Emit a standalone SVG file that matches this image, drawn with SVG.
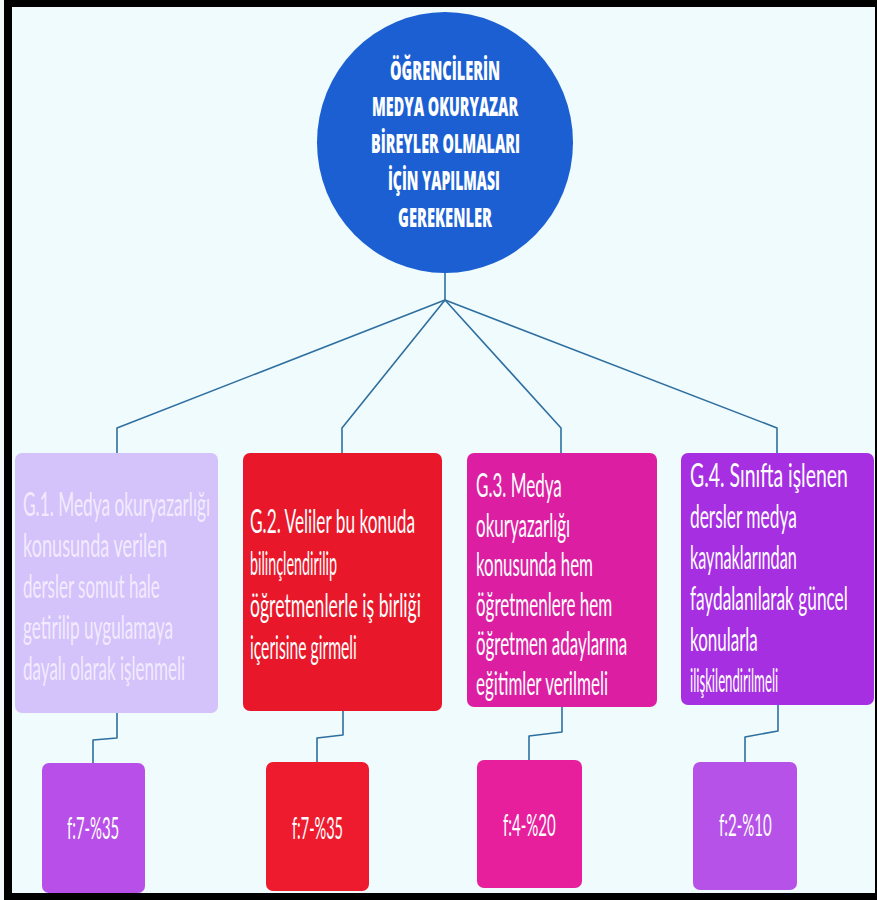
<svg xmlns="http://www.w3.org/2000/svg" width="877" height="900" viewBox="0 0 877 900">
  <style>
    .conn { fill: none; stroke: #2f6fa0; stroke-width: 1.6; stroke-linejoin: round; }
    .gt { font-family: Lato, "Open Sans", "Liberation Sans", sans-serif; font-size: 32px; fill: #ffffff; }
    .g1t { fill: #f2ebff; }
    .ft { font-family: Lato, "Open Sans", "Liberation Sans", sans-serif; font-size: 30px; fill: #ffffff; }
    .ct { font-family: "Open Sans", "Liberation Sans", sans-serif; font-size: 26px; font-weight: 800; fill: #ffffff; }
  </style>
  <!-- frame -->
  <rect x="0" y="0" width="877" height="900" fill="#f4f8f8"/>
  <rect x="4" y="0" width="873" height="900" fill="#000000"/>
  <rect x="12" y="7" width="863" height="886" fill="#effbfc"/>

  <g id="connectors">
    <line class="conn" x1="445" y1="272" x2="445" y2="300"/>
    <polyline class="conn" points="445,300 117,428 117,453"/>
    <polyline class="conn" points="445,300 342,428 342,453"/>
    <polyline class="conn" points="445,300 561,428 561,453"/>
    <polyline class="conn" points="445,300 777,428 777,453"/>
    <polyline class="conn" points="117,713 117,738 93,740 93,763"/>
    <polyline class="conn" points="343,711 343,735 317,738 317,762"/>
    <polyline class="conn" points="562,707 562,732 529,736 529,760"/>
    <polyline class="conn" points="778,705 778,731 745,737 745,762"/>
  </g>

  <g id="root">
    <ellipse cx="445" cy="142.5" rx="128" ry="130.5" fill="#1c5fd3"/>
    <text class="ct" transform="translate(390,80) scale(0.58,1)" textLength="190" lengthAdjust="spacingAndGlyphs">ÖĞRENCİLERİN</text>
    <text class="ct" transform="translate(372,116) scale(0.58,1)" textLength="252" lengthAdjust="spacingAndGlyphs">MEDYA OKURYAZAR</text>
    <text class="ct" transform="translate(371,153) scale(0.58,1)" textLength="257" lengthAdjust="spacingAndGlyphs">BİREYLER OLMALARI</text>
    <text class="ct" transform="translate(388,190) scale(0.58,1)" textLength="193" lengthAdjust="spacingAndGlyphs">İÇİN YAPILMASI</text>
    <text class="ct" transform="translate(398,227) scale(0.58,1)" textLength="162" lengthAdjust="spacingAndGlyphs">GEREKENLER</text>
  </g>

  <g id="g1">
    <rect x="15" y="453" width="203" height="260" rx="7" fill="#d4c2fa"/>
    <text class="gt g1t" transform="translate(23,516) scale(0.6,1)" textLength="312" lengthAdjust="spacingAndGlyphs">G.1. Medya okuryazarlığı</text>
    <text class="gt g1t" transform="translate(23,557) scale(0.6,1)" textLength="240" lengthAdjust="spacingAndGlyphs">konusunda verilen</text>
    <text class="gt g1t" transform="translate(23,598) scale(0.6,1)" textLength="228" lengthAdjust="spacingAndGlyphs">dersler somut hale</text>
    <text class="gt g1t" transform="translate(23,639) scale(0.6,1)" textLength="250" lengthAdjust="spacingAndGlyphs">getirilip uygulamaya</text>
    <text class="gt g1t" transform="translate(23,680) scale(0.6,1)" textLength="270" lengthAdjust="spacingAndGlyphs">dayalı olarak işlenmeli</text>
  </g>

  <g id="g2">
    <rect x="243" y="453" width="199" height="258" rx="7" fill="#e8182a"/>
    <text class="gt" transform="translate(250,533) scale(0.6,1)" textLength="275" lengthAdjust="spacingAndGlyphs">G.2. Veliler bu konuda</text>
    <text class="gt" transform="translate(250,575) scale(0.6,1)" textLength="145" lengthAdjust="spacingAndGlyphs">bilinçlendirilip</text>
    <text class="gt" transform="translate(250,617) scale(0.6,1)" textLength="285" lengthAdjust="spacingAndGlyphs">öğretmenlerle iş birliği</text>
    <text class="gt" transform="translate(250,659) scale(0.6,1)" textLength="178" lengthAdjust="spacingAndGlyphs">içerisine girmeli</text>
  </g>

  <g id="g3">
    <rect x="467" y="453" width="190" height="254" rx="7" fill="#dc1fa2"/>
    <text class="gt" transform="translate(476,497) scale(0.6,1)" textLength="143" lengthAdjust="spacingAndGlyphs">G.3. Medya</text>
    <text class="gt" transform="translate(476,537) scale(0.6,1)" textLength="157" lengthAdjust="spacingAndGlyphs">okuryazarlığı</text>
    <text class="gt" transform="translate(476,576) scale(0.6,1)" textLength="195" lengthAdjust="spacingAndGlyphs">konusunda hem</text>
    <text class="gt" transform="translate(476,616) scale(0.6,1)" textLength="227" lengthAdjust="spacingAndGlyphs">öğretmenlere hem</text>
    <text class="gt" transform="translate(476,655) scale(0.6,1)" textLength="252" lengthAdjust="spacingAndGlyphs">öğretmen adaylarına</text>
    <text class="gt" transform="translate(476,695) scale(0.6,1)" textLength="220" lengthAdjust="spacingAndGlyphs">eğitimler verilmeli</text>
  </g>

  <g id="g4">
    <rect x="681" y="453" width="193" height="252" rx="7" fill="#a62fe2"/>
    <text class="gt" transform="translate(690,487) scale(0.6,1)" textLength="263" lengthAdjust="spacingAndGlyphs">G.4. Sınıfta işlenen</text>
    <text class="gt" transform="translate(690,528) scale(0.6,1)" textLength="178" lengthAdjust="spacingAndGlyphs">dersler medya</text>
    <text class="gt" transform="translate(690,569) scale(0.6,1)" textLength="178" lengthAdjust="spacingAndGlyphs">kaynaklarından</text>
    <text class="gt" transform="translate(690,610) scale(0.6,1)" textLength="263" lengthAdjust="spacingAndGlyphs">faydalanılarak güncel</text>
    <text class="gt" transform="translate(690,651) scale(0.6,1)" textLength="113" lengthAdjust="spacingAndGlyphs">konularla</text>
    <text class="gt" transform="translate(690,692) scale(0.6,1)" textLength="147" lengthAdjust="spacingAndGlyphs">ilişkilendirilmeli</text>
  </g>

  <g id="f1">
    <rect x="42" y="763" width="103" height="130" rx="7" fill="#b84fe8"/>
    <text class="ft" transform="translate(67,839) scale(0.6,1)" textLength="87" lengthAdjust="spacingAndGlyphs">f:7-%35</text>
  </g>
  <g id="f2">
    <rect x="266" y="762" width="103" height="129" rx="7" fill="#ee1b2e"/>
    <text class="ft" transform="translate(292,839) scale(0.6,1)" textLength="85" lengthAdjust="spacingAndGlyphs">f:7-%35</text>
  </g>
  <g id="f3">
    <rect x="477" y="760" width="105" height="128" rx="7" fill="#e71f9c"/>
    <text class="ft" transform="translate(503,836) scale(0.6,1)" textLength="88" lengthAdjust="spacingAndGlyphs">f:4-%20</text>
  </g>
  <g id="f4">
    <rect x="693" y="762" width="104" height="128" rx="7" fill="#b652e8"/>
    <text class="ft" transform="translate(719,836) scale(0.6,1)" textLength="88" lengthAdjust="spacingAndGlyphs">f:2-%10</text>
  </g>
</svg>
